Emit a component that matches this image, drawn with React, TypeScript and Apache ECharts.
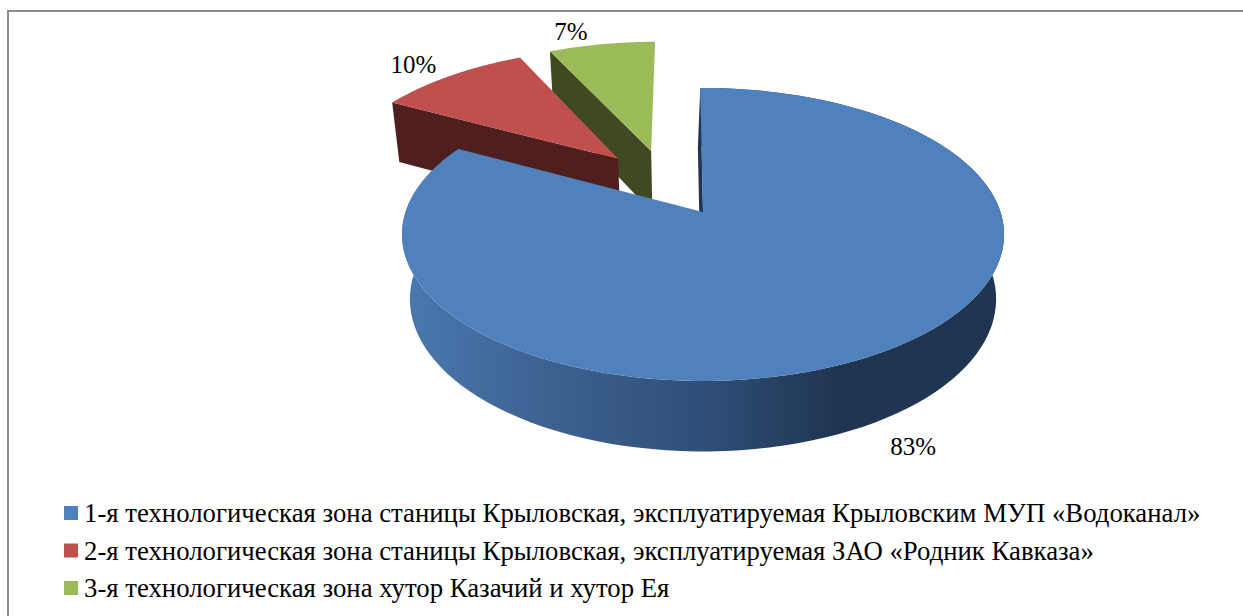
import React, { useEffect, useRef } from "react";
import * as echarts from "echarts";

// Shares of the three technological zones, in percent
const zoneNames = [
  "1-я технологическая зона станицы Крыловская, эксплуатируемая Крыловским МУП «Водоканал»",
  "2-я технологическая зона станицы Крыловская, эксплуатируемая ЗАО «Родник Кавказа»",
  "3-я технологическая зона хутор Казачий и хутор Ея",
];
const zoneShares = [83, 10, 7];

const topColors = ["#4f81bd", "#c0504d", "#9bbb59"];
const sideColors = ["#1f3551", "#4f1f1f", "#3f4a22"];
const labelOffsets = [
  [38, 24],
  [-37, -11],
  [-31, -13],
];

// Camera model of the tilted pie: plane coordinates are in units of the pie radius
const CX = 703;
const CY = 212;
const RX = 297.5;
const RY = 143;
const TILT = 0.1536;
const DEPTH_W = 0.0265;
const DEPTH_Y = 66;
const EXPLODE = 0.25;
const START_DEG = -0.6;
const CUT_EDGE_SHIFT = -2.5;
const FONT = "'Liberation Serif', serif";

const project = (u: number, v: number, low: boolean): number[] => {
  const w = 1 - TILT * v + (low ? DEPTH_W : 0);
  const x = CX + (RX * u) / w;
  const y = CY + (RY * v + (low ? DEPTH_Y : 0)) / w;
  return [x, y];
};

const total = zoneShares.reduce((a, b) => a + b, 0);

const sliceAngles = (index: number) => {
  const before = zoneShares.slice(0, index).reduce((a, b) => a + b, 0);
  const start = START_DEG + (before / total) * 360;
  const end = start + (zoneShares[index] / total) * 360;
  return { start, end, mid: (start + end) / 2 };
};

// Clockwise from twelve o'clock; v grows towards the viewer
const direction = (deg: number) => {
  const a = (deg * Math.PI) / 180;
  return [Math.sin(a), -Math.cos(a)];
};

const sliceApex = (index: number) => {
  const own = direction(sliceAngles(index).mid);
  const ref = direction(sliceAngles(0).mid);
  return [EXPLODE * (own[0] - ref[0]), EXPLODE * (own[1] - ref[1])];
};

const renderSlice = (index: number) => (_params: unknown, api: any) => {
  const value = api.value(0) as number;
  const { start, end, mid } = sliceAngles(index);
  const apex = sliceApex(index);
  const rim: number[][] = [];
  const steps = 120;
  for (let i = 0; i <= steps; i++) {
    const d = direction(start + ((end - start) * i) / steps);
    rim.push([apex[0] + d[0], apex[1] + d[1]]);
  }
  const rimTop = rim.map((p) => project(p[0], p[1], false));
  const rimLow = rim.map((p) => project(p[0], p[1], true));
  const apexTop = project(apex[0], apex[1], false);
  const apexLow = project(apex[0], apex[1], true);

  // The big slice shows a hairline of its cut face along the left edge
  const cutShift = index === 0 ? CUT_EDGE_SHIFT : 0;

  const midDir = direction(mid);
  const labelAt = project(apex[0] + midDir[0], apex[1] + midDir[1], index === 0);

  // Only the front slice turns its outer wall towards the viewer
  const wall =
    index === 0
      ? [
          {
            type: "polygon",
            shape: { points: [...rimTop, ...[...rimLow].reverse()] },
            style: {
              fill: {
                type: "linear",
                x: 405,
                y: 0,
                x2: 1005,
                y2: 0,
                global: true,
                colorStops: [
                  { offset: 0, color: "#4a78ae" },
                  { offset: 0.25, color: "#3c6190" },
                  { offset: 0.5, color: "#2f4f78" },
                  { offset: 0.72, color: "#1f3551" },
                  { offset: 1, color: "#1f3551" },
                ],
              },
            },
          },
        ]
      : [];

  return {
    type: "group",
    children: [
      ...wall,
      {
        type: "polygon",
        shape: {
          points: [
            apexTop,
            rimTop[0],
            [rimLow[0][0] + cutShift, rimLow[0][1]],
            [apexLow[0] + cutShift, apexLow[1]],
          ],
        },
        style: { fill: sideColors[index] },
      },
      {
        type: "polygon",
        shape: { points: [apexTop, ...rimTop] },
        style: { fill: topColors[index] },
      },
      {
        type: "text",
        x: labelAt[0] + labelOffsets[index][0],
        y: labelAt[1] + labelOffsets[index][1],
        style: {
          text: `${value}%`,
          fill: "#000",
          font: `25px ${FONT}`,
          align: "center",
          verticalAlign: "middle",
        },
      },
    ],
  };
};

export default function App() {
  const ref = useRef<HTMLDivElement>(null);

  useEffect(() => {
    const chart = echarts.init(ref.current!, null, { renderer: "svg" });
    // Back slices are painted first so the large front slice covers them
    const paintOrder = [2, 1, 0];
    chart.setOption({
      animation: false,
      backgroundColor: "#fff",
      graphic: [
        {
          type: "rect",
          shape: { x: 8, y: 11, width: 1400, height: 800 },
          style: { fill: "none", stroke: "#8c8c8c", lineWidth: 2 },
          silent: true,
        },
      ],
      legend: {
        orient: "vertical",
        left: 59,
        top: 493,
        data: zoneNames,
        icon: "rect",
        itemWidth: 14,
        itemHeight: 14,
        itemGap: 7.5,
        selectedMode: false,
        textStyle: {
          fontFamily: FONT,
          fontSize: 26.75,
          color: "#000",
          lineHeight: 30,
          padding: [0, 0, 0, 1],
        },
      },
      series: paintOrder.map((index) => ({
        type: "custom",
        name: zoneNames[index],
        coordinateSystem: "none",
        z: 3 - index,
        itemStyle: { color: topColors[index] },
        data: [[zoneShares[index]]],
        renderItem: renderSlice(index),
      })),
    });
    return () => chart.dispose();
  }, []);

  return (
    <div
      ref={ref}
      style={{ position: "absolute", left: 0, top: 0, width: 1243, height: 616 }}
    />
  );
}
